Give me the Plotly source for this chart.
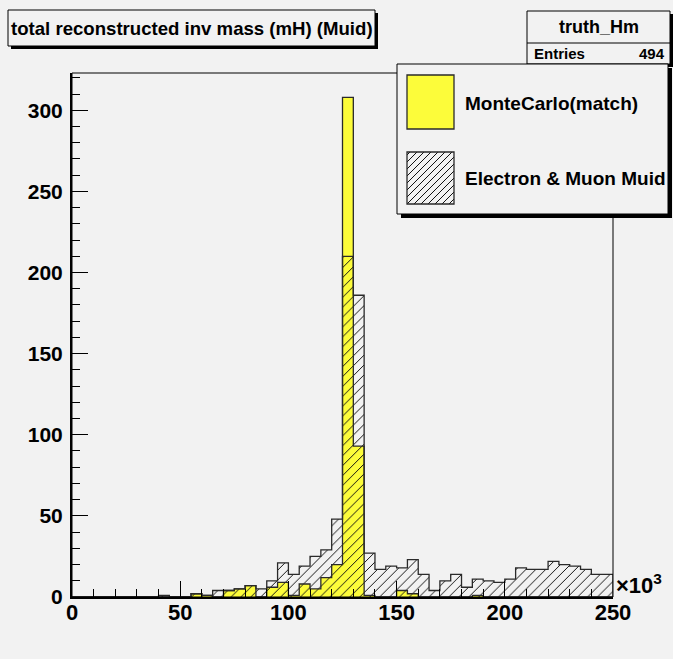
import plotly.graph_objects as go

# ---------------- data ----------------
bin_width = 5  # x10^3
n_bins = 50
# MonteCarlo(match) (yellow) per bin, bins 0..49 (0-5, 5-10, ... 245-250)
mc_match = [0, 0, 0, 0, 0, 0, 0, 0, 0, 0,
            0, 2, 1, 0, 4, 5, 7, 0, 6, 9,
            1, 8, 5, 12, 20, 308, 93, 1, 0, 0,
            4, 2, 0, 0, 0, 0, 0, 1, 0, 0,
            0, 0, 0, 0, 0, 0, 0, 0, 0, 0]
# Electron & Muon Muid (hatched) per bin
muid = [0, 0, 0, 0, 0, 0, 0, 0, 1, 0,
        0, 2, 1, 4, 4, 5, 7, 5, 10, 21,
        14, 19, 25, 29, 48, 210, 186, 27, 17, 19,
        18, 23, 14, 4, 10, 14, 6, 11, 10, 9,
        11, 18, 17, 17, 22, 20, 19, 17, 14, 14]

title_text = "total reconstructed inv mass (mH) (Muid)"
stats_name = "truth_Hm"
stats_entries = 494
legend_labels = ["MonteCarlo(match)", "Electron & Muon Muid"]
y_ticks = [0, 50, 100, 150, 200, 250, 300]
x_ticks = [0, 50, 100, 150, 200, 250]

# ---------------- geometry helpers ----------------
W, H = 673, 659
L, R, T, B = 72, 60, 73, 62
PW, PH = W - L - R, H - T - B
BG = "#f2f2f2"
FONT = "Liberation Sans, Arial, Helvetica, sans-serif"


def px(xp):
    return (xp - L) / PW


def py(yp):
    return (H - B - yp) / PH


edges = [i * bin_width for i in range(n_bins + 1)]
centers = [e + bin_width / 2 for e in edges[:-1]]


def outline(vals):
    xs = [edges[0]] + edges[:-1] + [edges[-1], edges[-1]]
    ys = [0] + list(vals) + [vals[-1], 0]
    return xs, ys


fig = go.Figure()

# yellow histogram
fig.add_trace(go.Bar(x=centers, y=mc_match, width=bin_width,
                     marker=dict(color="#fcfc3a", line=dict(width=0)),
                     showlegend=False, hoverinfo="skip"))
xs, ys = outline(mc_match)
fig.add_trace(go.Scatter(x=xs, y=ys, mode="lines", line=dict(shape="hv", color="#2a2a2a", width=1.3),
                         showlegend=False, hoverinfo="skip"))
# hatched histogram
fig.add_trace(go.Bar(x=centers, y=muid, width=bin_width,
                     marker=dict(color="rgba(0,0,0,0)", line=dict(width=0),
                                 pattern=dict(shape="/", fgcolor="#111111", bgcolor="rgba(0,0,0,0)",
                                              size=7, solidity=0.14, fillmode="replace")),
                     showlegend=False, hoverinfo="skip"))
xs, ys = outline(muid)
fig.add_trace(go.Scatter(x=xs, y=ys, mode="lines", line=dict(shape="hv", color="#2a2a2a", width=1.3),
                         showlegend=False, hoverinfo="skip"))

shapes = []
annotations = []


def box(x0, y0, x1, y1, shadow=3, fill=BG, lw=1):
    shapes.append(dict(type="rect", xref="paper", yref="paper", layer="above",
                       x0=px(x0 + shadow), x1=px(x1 + shadow), y0=py(y0 + shadow), y1=py(y1 + shadow),
                       fillcolor="#000", line=dict(width=0)))
    shapes.append(dict(type="rect", xref="paper", yref="paper", layer="above",
                       x0=px(x0), x1=px(x1), y0=py(y0), y1=py(y1),
                       fillcolor=fill, line=dict(color="#000", width=lw)))


# frame (top/right thin)
shapes.append(dict(type="rect", xref="paper", yref="paper", x0=0, x1=1, y0=0, y1=1,
                   line=dict(color="#000", width=1), layer="above"))

# title box
box(8, 10, 375, 46, shadow=3)
annotations.append(dict(text=title_text, xref="paper", yref="paper", x=px(191.5), y=py(28.5),
                        showarrow=False, xanchor="center", yanchor="middle",
                        font=dict(family=FONT, size=18.6, color="#000", weight="bold")))

# stats box
box(527, 11, 670, 64, shadow=3)
shapes.append(dict(type="line", xref="paper", yref="paper", layer="above",
                   x0=px(527), x1=px(670), y0=py(43), y1=py(43), line=dict(color="#000", width=1)))
annotations.append(dict(text=stats_name, xref="paper", yref="paper", x=px(598.5), y=py(27),
                        showarrow=False, xanchor="center", yanchor="middle",
                        font=dict(family=FONT, size=18, color="#000", weight="bold")))
annotations.append(dict(text="Entries", xref="paper", yref="paper", x=px(532), y=py(54),
                        showarrow=False, xanchor="left", yanchor="middle",
                        font=dict(family=FONT, size=15, color="#000", weight="bold")))
annotations.append(dict(text=str(stats_entries), xref="paper", yref="paper", x=px(667), y=py(54),
                        showarrow=False, xanchor="right", yanchor="middle",
                        font=dict(family=FONT, size=15, color="#000", weight="bold")))

# legend box
box(397, 64, 668, 214, shadow=4)
# yellow swatch
shapes.append(dict(type="rect", xref="paper", yref="paper", layer="above",
                   x0=px(407), x1=px(454), y0=py(75), y1=py(129),
                   fillcolor="#fcfc3a", line=dict(color="#2a2a2a", width=1.3)))
# hatched swatch
sx0, sy0, sx1, sy1 = 407, 152, 454, 204
c = sx0 + sy0 + 3
while c < sx1 + sy1:
    pts = []
    for xx in (sx0, sx1):
        yy = c - xx
        if sy0 <= yy <= sy1:
            pts.append((xx, yy))
    for yy in (sy0, sy1):
        xx = c - yy
        if sx0 <= xx <= sx1:
            pts.append((xx, yy))
    if len(pts) >= 2:
        pts = sorted(set(pts))
        (ax, ay), (bx, by) = pts[0], pts[-1]
        shapes.append(dict(type="line", xref="paper", yref="paper", layer="above",
                           x0=px(ax), y0=py(ay), x1=px(bx), y1=py(by),
                           line=dict(color="#111", width=1)))
    c += 7
shapes.append(dict(type="rect", xref="paper", yref="paper", layer="above",
                   x0=px(sx0), x1=px(sx1), y0=py(sy0), y1=py(sy1),
                   line=dict(color="#2a2a2a", width=1.3)))
annotations.append(dict(text=legend_labels[0], xref="paper", yref="paper", x=px(463), y=py(103),
                        showarrow=False, xanchor="left", yanchor="middle",
                        font=dict(family=FONT, size=19, color="#000", weight="bold")))
annotations.append(dict(text=legend_labels[1], xref="paper", yref="paper", x=px(463), y=py(178),
                        showarrow=False, xanchor="left", yanchor="middle",
                        font=dict(family=FONT, size=19, color="#000", weight="bold")))

# x10^3 label
annotations.append(dict(text="\u00d710<sup>3</sup>", xref="paper", yref="paper", x=px(614), y=py(584),
                        showarrow=False, xanchor="left", yanchor="middle",
                        font=dict(family=FONT, size=22, color="#000", weight="bold")))

fig.update_layout(
    width=W, height=H,
    margin=dict(l=L, r=R, t=T, b=B, pad=0),
    paper_bgcolor=BG, plot_bgcolor=BG,
    barmode="overlay", bargap=0,
    showlegend=False,
    shapes=shapes, annotations=annotations,
    xaxis=dict(range=[0, 250], tickvals=x_ticks, ticktext=[str(v) for v in x_ticks],
               ticks="inside", ticklen=16, tickwidth=1, tickcolor="#000",
               minor=dict(dtick=10, tick0=0, ticks="inside", ticklen=8, tickwidth=1, tickcolor="#000"),
               showline=True, linecolor="#000", linewidth=2, showgrid=False, zeroline=False,
               tickfont=dict(family=FONT, size=22, color="#000", weight="bold"), ticklabelstandoff=-5),
    yaxis=dict(range=[0, 323], tickvals=y_ticks, ticktext=[str(v) for v in y_ticks],
               ticks="inside", ticklen=16, tickwidth=1, tickcolor="#000",
               minor=dict(dtick=10, tick0=0, ticks="inside", ticklen=8, tickwidth=1, tickcolor="#000"),
               showline=True, linecolor="#000", linewidth=2, showgrid=False, zeroline=False,
               tickfont=dict(family=FONT, size=21, color="#000", weight="bold"), ticklabelstandoff=3),
)

fig.write_html("out.html")
